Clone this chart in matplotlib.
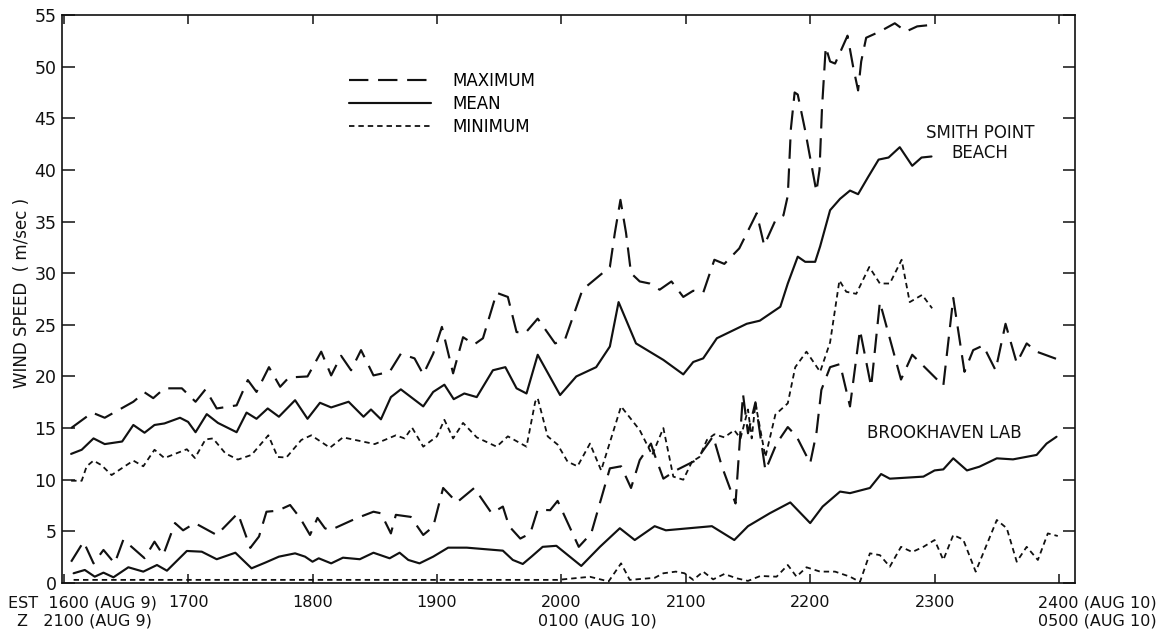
import matplotlib
matplotlib.use("Agg")
import matplotlib.pyplot as plt
from matplotlib.lines import Line2D

plt.rcParams['font.family'] = ['DejaVu Sans']

# ---------------- data (time in decimal hours EST, wind speed m/s) ----------------
# Smith Point Beach
SP_MAX_T = [16.06, 16.23, 16.33, 16.56, 16.65, 16.72, 16.81, 16.95, 17.06, 17.14, 17.23, 17.39,
            17.48, 17.55, 17.65, 17.74, 17.81, 17.96, 18.07, 18.15, 18.23, 18.31, 18.39, 18.49,
            18.62, 18.71, 18.82, 18.89, 18.97, 19.04, 19.13, 19.21, 19.30, 19.37, 19.48, 19.57,
            19.64, 19.71, 19.81, 19.95, 20.03, 20.17, 20.28, 20.39, 20.43, 20.475, 20.52, 20.56,
            20.63, 20.71, 20.79, 20.885, 20.98, 21.06, 21.14, 21.23, 21.31, 21.43, 21.57, 21.63,
            21.72, 21.785, 21.82, 21.845, 21.875, 21.90, 21.96, 22.01, 22.05, 22.075, 22.095,
            22.125, 22.16, 22.20, 22.245, 22.30, 22.345, 22.385, 22.41, 22.45, 22.56, 22.68,
            22.77, 22.86, 22.94]
SP_MAX_V = [15.0, 16.5, 16.0, 17.55, 18.46, 17.9, 18.85, 18.85, 17.55, 18.75, 16.9, 17.2,
            19.65, 18.5, 20.9, 19.0, 19.9, 20.0, 22.4, 20.1, 22.0, 20.6, 22.55, 20.1,
            20.45, 22.2, 21.75, 20.2, 22.2, 24.8, 20.3, 23.8, 23.1, 23.7, 28.1, 27.7,
            24.3, 24.2, 25.6, 23.2, 23.6, 28.4, 29.5, 30.6, 33.9, 37.1, 33.9, 30.0,
            29.2, 29.0, 28.4, 29.2, 27.7, 28.3, 28.1, 31.3, 30.9, 32.4, 35.8, 32.7,
            35.1, 35.6, 37.5, 44.0, 47.5, 47.3, 43.8, 40.5, 37.9, 40.0, 46.0,
            51.9, 50.5, 50.3, 51.5, 53.0, 50.0, 47.7, 50.5, 52.8, 53.4, 54.2,
            53.4, 53.9, 54.0]

SP_MEAN_T = [16.06, 16.145, 16.24, 16.33, 16.47, 16.56, 16.65, 16.73, 16.81, 16.935, 17.00, 17.06,
             17.15, 17.24, 17.39, 17.47, 17.55, 17.64, 17.73, 17.86, 17.96, 18.06, 18.15, 18.29,
             18.41, 18.47, 18.55, 18.63, 18.71, 18.89, 18.97, 19.06, 19.135, 19.22, 19.32, 19.45,
             19.55, 19.64, 19.72, 19.81, 19.99, 20.12, 20.28, 20.39, 20.46, 20.60, 20.82, 20.98,
             21.06, 21.14, 21.25, 21.49, 21.595, 21.76, 21.82, 21.90, 21.96, 22.04, 22.08, 22.16,
             22.24, 22.32, 22.385, 22.465, 22.55, 22.63, 22.72, 22.77, 22.82, 22.895, 22.975]
SP_MEAN_V = [12.5, 12.9, 14.0, 13.45, 13.7, 15.3, 14.55, 15.3, 15.45, 16.0, 15.6, 14.6,
             16.35, 15.5, 14.6, 16.5, 15.9, 16.9, 16.1, 17.7, 15.9, 17.45, 17.0, 17.55,
             16.1, 16.8, 15.85, 18.0, 18.75, 17.1, 18.5, 19.2, 17.8, 18.35, 18.0, 20.6,
             20.9, 18.85, 18.35, 22.1, 18.2, 20.0, 20.9, 22.9, 27.2, 23.2, 21.6, 20.2,
             21.4, 21.75, 23.7, 25.1, 25.4, 26.75, 29.0, 31.6, 31.1, 31.1, 32.6, 36.1,
             37.2, 38.0, 37.65, 39.3, 41.0, 41.2, 42.2, 41.3, 40.4, 41.2, 41.3]

SP_MIN_T = [16.06, 16.145, 16.185, 16.24, 16.305, 16.385, 16.56, 16.64, 16.73, 16.81, 16.99, 17.055,
            17.14, 17.20, 17.30, 17.40, 17.51, 17.645, 17.72, 17.79, 17.91, 17.99, 18.14, 18.245,
            18.50, 18.67, 18.74, 18.80, 18.89, 19.00, 19.06, 19.13, 19.21, 19.32, 19.48, 19.57,
            19.72, 19.79, 19.81, 19.89, 19.97, 20.05, 20.13, 20.23, 20.32, 20.48, 20.63, 20.73,
            20.82, 20.90, 20.98, 21.05, 21.11, 21.17, 21.23, 21.31, 21.39, 21.44, 21.50, 21.53,
            21.56, 21.64, 21.72, 21.82, 21.88, 21.97, 22.08, 22.16, 22.235, 22.29, 22.37, 22.475,
            22.56, 22.64, 22.735, 22.80, 22.90, 22.98]
SP_MIN_V = [9.9, 9.9, 11.3, 11.85, 11.4, 10.45, 11.85, 11.3, 12.9, 12.1, 12.95, 12.1,
            13.9, 14.0, 12.55, 11.95, 12.4, 14.3, 12.2, 12.15, 13.85, 14.3, 13.1, 14.1,
            13.45, 14.3, 14.0, 15.05, 13.2, 14.2, 15.8, 14.0, 15.5, 14.1, 13.2, 14.2,
            13.2, 17.55, 17.9, 14.2, 13.4, 11.75, 11.3, 13.5, 10.9, 17.1, 14.8, 12.4,
            15.0, 10.3, 10.0, 11.75, 12.2, 13.85, 14.4, 14.1, 14.8, 14.0, 16.8, 14.0,
            17.4, 12.2, 16.3, 17.4, 20.9, 22.4, 20.45, 23.3, 29.3, 28.2, 28.0, 30.6,
            29.0, 29.0, 31.3, 27.2, 27.9, 26.6]

# Brookhaven Lab
BH_MAX_T = [16.06, 16.16, 16.24, 16.32, 16.41, 16.48, 16.65, 16.73, 16.80, 16.895, 16.96, 17.055,
            17.23, 17.40, 17.50, 17.57, 17.63, 17.72, 17.82, 17.90, 17.98, 18.04, 18.10, 18.14,
            18.35, 18.49, 18.55, 18.63, 18.67, 18.79, 18.89, 18.97, 19.05, 19.16, 19.30, 19.44,
            19.53, 19.58, 19.67, 19.75, 19.81, 19.91, 19.97, 20.14, 20.24, 20.39, 20.48, 20.56,
            20.63, 20.72, 20.75, 20.82, 20.92, 21.085, 21.22, 21.29, 21.40, 21.46, 21.50, 21.56,
            21.64, 21.73, 21.82, 21.89, 22.00, 22.05, 22.09, 22.16, 22.24, 22.32, 22.40, 22.49,
            22.56, 22.73, 22.82, 23.07, 23.15, 23.24, 23.31, 23.39, 23.49, 23.57, 23.66, 23.74,
            23.82, 23.99]
BH_MAX_V = [2.06, 4.0, 1.9, 3.2, 1.9, 4.2, 2.4, 4.0, 2.7, 5.8, 5.1, 5.8,
            4.65, 6.75, 3.4, 4.5, 6.9, 7.0, 7.55, 6.3, 4.65, 6.3, 5.3, 5.1,
            6.25, 6.9, 6.75, 4.8, 6.6, 6.4, 4.65, 5.45, 9.2, 7.8, 9.2, 6.75,
            7.4, 5.5, 4.3, 4.8, 7.1, 7.05, 7.95, 3.5, 4.8, 11.1, 11.3, 9.2,
            11.9, 13.5, 12.4, 10.1, 10.9, 11.9, 14.2, 11.3, 7.7, 18.3, 14.5, 17.5,
            10.9, 13.5, 15.1, 14.2, 11.6, 14.5, 18.7, 20.9, 21.2, 17.1, 24.5, 19.0,
            27.2, 19.7, 22.1, 19.1, 27.6, 20.45, 22.55, 23.0, 20.6, 25.1, 21.3, 23.2,
            22.4, 21.65]

BH_MEAN_T = [16.08, 16.17, 16.25, 16.32, 16.40, 16.52, 16.64, 16.75, 16.83, 16.99, 17.11, 17.23,
             17.38, 17.51, 17.62, 17.73, 17.86, 17.94, 18.00, 18.05, 18.15, 18.245, 18.38, 18.49,
             18.62, 18.70, 18.77, 18.86, 18.97, 19.09, 19.24, 19.53, 19.61, 19.69, 19.76, 19.85,
             19.96, 20.16, 20.31, 20.47, 20.59, 20.75, 20.84, 21.21, 21.39, 21.50, 21.675, 21.84,
             22.00, 22.10, 22.24, 22.32, 22.48, 22.57, 22.64, 22.91, 23.00, 23.07, 23.15, 23.26,
             23.36, 23.50, 23.63, 23.82, 23.90, 23.98]
BH_MEAN_V = [0.94, 1.26, 0.61, 1.0, 0.55, 1.52, 1.1, 1.74, 1.19, 3.1, 3.03, 2.3,
             2.93, 1.42, 1.97, 2.55, 2.87, 2.55, 2.06, 2.39, 1.9, 2.45, 2.3, 2.93,
             2.39, 2.93, 2.23, 1.9, 2.55, 3.42, 3.42, 3.13, 2.23, 1.84, 2.55, 3.5,
             3.6, 1.65, 3.5, 5.3, 4.16, 5.5, 5.1, 5.5, 4.16, 5.5, 6.75, 7.8,
             5.8, 7.4, 8.85, 8.7, 9.2, 10.55, 10.1, 10.3, 10.9, 11.0, 12.07, 10.9,
             11.26, 12.07, 11.97, 12.4, 13.5, 14.16]

BH_MIN_T = [16.08, 19.80, 19.97, 20.23, 20.38, 20.48, 20.55, 20.75, 20.82, 20.92, 20.99, 21.06,
            21.14, 21.22, 21.31, 21.41, 21.50, 21.60, 21.73, 21.82, 21.89, 21.97, 22.08, 22.20,
            22.32, 22.40, 22.48, 22.56, 22.64, 22.73, 22.82, 22.91, 23.00, 23.07, 23.15, 23.23,
            23.33, 23.50, 23.58, 23.66, 23.74, 23.83, 23.91, 23.99]
BH_MIN_V = [0.3, 0.3, 0.3, 0.6, 0.15, 1.9, 0.3, 0.5, 0.94, 1.1, 0.94, 0.3,
            1.1, 0.35, 0.87, 0.45, 0.2, 0.68, 0.61, 1.74, 0.61, 1.52, 1.1, 1.1,
            0.61, 0.1, 2.87, 2.7, 1.58, 3.5, 3.0, 3.5, 4.16, 2.23, 4.65, 4.2,
            1.1, 6.1, 5.3, 2.06, 3.5, 2.23, 4.8, 4.55]

X_TICKS = [16, 17, 18, 19, 20, 21, 22, 23, 24]
EST_LABELS = ["", "1700", "1800", "1900", "2000", "2100", "2200", "2300", ""]
Y_TICKS = [0, 5, 10, 15, 20, 25, 30, 35, 40, 45, 50, 55]
LEGEND_LABELS = ["MAXIMUM", "MEAN", "MINIMUM"]

# ---------------- styling ----------------
INK = "#111111"
LW = 1.55
MAX_STYLE = dict(color=INK, lw=LW, ls=(0, (9, 4.5)), dash_capstyle='butt')
MEAN_STYLE = dict(color=INK, lw=LW, ls='-', solid_capstyle='round', solid_joinstyle='round')
MIN_STYLE = dict(color=INK, lw=1.3, ls=(0, (3, 2.2)), dash_capstyle='butt')

fig = plt.figure(figsize=(11.64, 6.31), dpi=100)
ax = fig.add_axes([0.0533, 0.0761, 0.8702, 0.9001])

ax.plot(SP_MAX_T, SP_MAX_V, **MAX_STYLE)
ax.plot(SP_MEAN_T, SP_MEAN_V, **MEAN_STYLE)
ax.plot(SP_MIN_T, SP_MIN_V, **MIN_STYLE)
ax.plot(BH_MAX_T, BH_MAX_V, **MAX_STYLE)
ax.plot(BH_MEAN_T, BH_MEAN_V, **MEAN_STYLE)
ax.plot(BH_MIN_T, BH_MIN_V, **MIN_STYLE)

ax.set_xlim(15.987, 24.128)
ax.set_ylim(0, 55)

for s in ax.spines.values():
    s.set_linewidth(1.2)
    s.set_color(INK)

ax.set_yticks(Y_TICKS)
ax.set_yticklabels([str(v) for v in Y_TICKS], fontsize=12.5)
ax.set_xticks(X_TICKS)
ax.set_xticklabels([])
ax.tick_params(axis='y', which='both', direction='in', length=9, width=1.1,
               left=True, right=True, pad=4, colors=INK)
ax.tick_params(axis='x', which='both', direction='in', length=6.5, width=1.1,
               bottom=True, top=True, colors=INK)

# x labels (two time scales)
def xlabel(x, dx, dy, s, ha='center'):
    ax.annotate(s, xy=(x, 0), xycoords=('data', 'axes fraction'),
                xytext=(dx, dy), textcoords='offset pixels',
                ha=ha, va='center', fontsize=11.5, color=INK, annotation_clip=False)

for t, lab in zip(X_TICKS, EST_LABELS):
    if lab:
        xlabel(t, 0, -20, lab)
xlabel(X_TICKS[0], -56, -20, "EST  1600 (AUG 9)", ha='left')
xlabel(X_TICKS[0], -47, -38, "Z   2100 (AUG 9)", ha='left')
xlabel(X_TICKS[4], -23, -38, "0100 (AUG 10)", ha='left')
xlabel(X_TICKS[8], -21, -20, "2400 (AUG 10)", ha='left')
xlabel(X_TICKS[8], -21, -38, "0500 (AUG 10)", ha='left')

ax.set_ylabel("WIND SPEED  ( m/sec )", fontsize=12, color=INK)
ax.yaxis.set_label_coords(-0.031, 0.51)

# legend
handles = [Line2D([], [], **MAX_STYLE), Line2D([], [], **MEAN_STYLE), Line2D([], [], **MIN_STYLE)]
ax.legend(handles, LEGEND_LABELS, loc='upper left', bbox_to_anchor=(0.2833, 0.9),
          frameon=False, fontsize=12, handlelength=4.9, handletextpad=1.3,
          labelspacing=0.3, borderpad=0, borderaxespad=0)

# station annotations
ax.text(23.365, 42.6, "SMITH POINT\nBEACH", ha='center', va='center', fontsize=12,
        color=INK, multialignment='center', linespacing=1.2)
ax.text(23.08, 14.5, "BROOKHAVEN LAB", ha='center', va='center', fontsize=12, color=INK)

fig.savefig("out.png", dpi=100, facecolor='white')
